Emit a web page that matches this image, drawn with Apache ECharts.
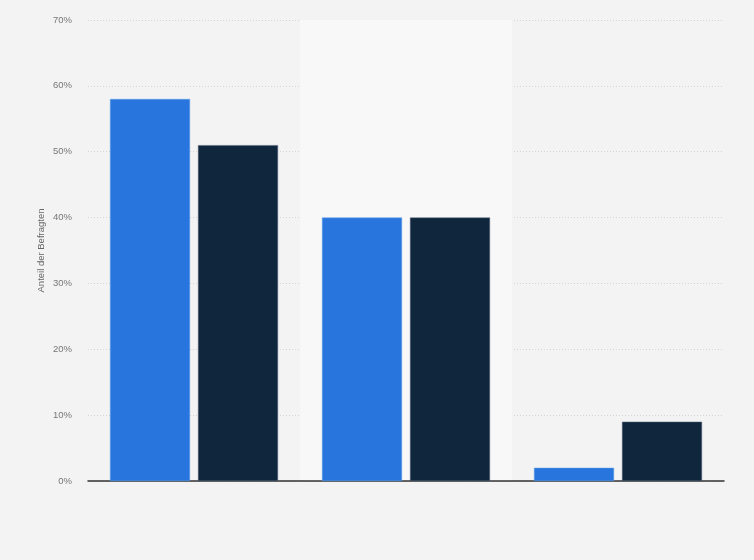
<!DOCTYPE html>
<html>
<head>
<meta charset="utf-8">
<script src="https://cdn.jsdelivr.net/npm/echarts@6/dist/echarts.min.js"></script>
<style>
html,body{margin:0;padding:0;background:#f3f3f3;}
#c{width:754px;height:560px;}
</style>
</head>
<body>
<div id="c"></div>
<script>
const categories = ['', ' ', '  '];
const seriesA = [58, 40, 2];
const seriesB = [51, 40, 9];
const yTicks = [0, 10, 20, 30, 40, 50, 60, 70];

const chart = echarts.init(document.getElementById('c'), null, {renderer: 'canvas'});
chart.setOption({
  backgroundColor: '#f3f3f3',
  animation: false,
  grid: {left: 88, right: 30, top: 20, bottom: 79},
  xAxis: {
    type: 'category',
    data: categories,
    axisLine: {show: true, lineStyle: {color: '#333', width: 1.5}},
    axisTick: {show: false},
    axisLabel: {show: false},
    splitArea: {show: true, areaStyle: {color: ['rgba(0,0,0,0)', '#f8f8f8']}}
  },
  yAxis: {
    type: 'value',
    min: 0, max: 70, interval: 10,
    name: 'Anteil der Befragten',
    nameLocation: 'middle',
    nameGap: 42,
    nameRotate: 90,
    nameMoveOverlap: false,
    nameTextStyle: {color: '#666', fontSize: 9.5, fontFamily: 'Arial, Liberation Sans, sans-serif'},
    axisLine: {show: false},
    axisTick: {show: false},
    axisLabel: {
      color: '#777', fontSize: 9.5, margin: 16,
      fontFamily: 'Arial, Liberation Sans, sans-serif',
      formatter: v => yTicks.includes(v) ? v + '%' : ''
    },
    splitLine: {lineStyle: {color: '#d4d4d4', type: [1, 2], width: 1}}
  },
  series: [
    {type: 'bar', data: seriesA, barWidth: 80, barGap: '10%',
     itemStyle: {color: '#2876dd', borderColor: '#5a9ae8', borderWidth: 0.5}},
    {type: 'bar', data: seriesB, barWidth: 80,
     itemStyle: {color: '#10263d', borderColor: '#51657a', borderWidth: 0.5}}
  ]
});
</script>
</body>
</html>
